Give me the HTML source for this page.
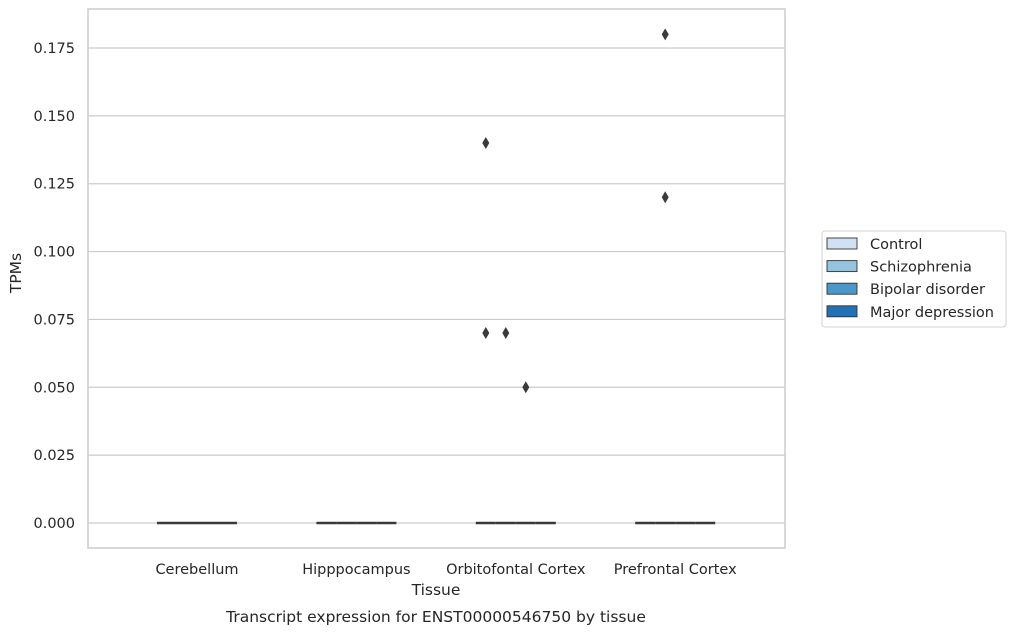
<!DOCTYPE html>
<html><head><meta charset="utf-8"><style>
body{margin:0;background:#fff;font-family:"Liberation Sans","DejaVu Sans",sans-serif;}
</style></head><body>
<svg id="chart" width="1017" height="634" xmlns="http://www.w3.org/2000/svg" font-family="DejaVu Sans, Liberation Sans, sans-serif" fill="#262626"></svg>
<script>
const categories = ["Cerebellum","Hipppocampus","Orbitofontal Cortex","Prefrontal Cortex"];
const hues = ["Control","Schizophrenia","Bipolar disorder","Major depression"];
const hueColors = ["#d0e1f2","#94c4df","#4a98c9","#2171b5"];
const yTicks = [0,0.025,0.05,0.075,0.1,0.125,0.15,0.175];
const medians = [[0,0,0,0],[0,0,0,0],[0,0,0,0],[0,0,0,0]];
// outliers: [categoryIndex, hueIndex, value]
const outliers = [[2,0,0.14],[2,0,0.07],[2,1,0.07],[2,2,0.05],[3,1,0.18],[3,1,0.12]];

const svg = document.getElementById('chart');
const NS = "http://www.w3.org/2000/svg";
const L=88,R=785,T=9,B=548;
const y = v => 523 - v/0.175*475;
const xc = i => 197 + i*159.4;
const xh = (i,h) => xc(i) - 30 + h*20;
function mk(tag, attrs, text){const e=document.createElementNS(NS,tag);for(const k in attrs)e.setAttribute(k,attrs[k]);if(text!==undefined)e.textContent=text;svg.appendChild(e);return e;}

yTicks.forEach(t=>{
  const g=mk('line',{x1:L,x2:R,y1:y(t),y2:y(t),stroke:'#cccccc','stroke-width':1.2});
  
  
  const tx=mk('text',{x:75,y:y(t)+5,'text-anchor':'end','font-size':14.5},t.toFixed(3));
  
  
});
const frame=mk('rect',{x:L,y:T,width:R-L,height:B-T,fill:'none',stroke:'#cccccc','stroke-width':1.5});



categories.forEach((c,i)=>{
  const tx=mk('text',{x:xc(i),y:574,'text-anchor':'middle','font-size':14.5},c);
  
  
  hues.forEach((h,j)=>{
    const m=mk('line',{x1:xh(i,j)-10,x2:xh(i,j)+10,y1:y(medians[i][j]),y2:y(medians[i][j]),stroke:'#3a3a3a','stroke-width':2.5});
    
    
  });
});
outliers.forEach(o=>{
  const cx=xh(o[0],o[1]), cy=y(o[2]);
  const p=mk('polygon',{points:`${cx},${cy-6} ${cx+3.5},${cy} ${cx},${cy+6} ${cx-3.5},${cy}`,fill:'#3a3a3a'});
  
  
});
let t;
t=mk('text',{x:436,y:595,'text-anchor':'middle','font-size':15.5},'Tissue');


t=mk('text',{x:21,y:273,'text-anchor':'middle','font-size':15.5,transform:'rotate(-90 21 273)'},'TPMs');


t=mk('text',{x:436,y:622,'text-anchor':'middle','font-size':15.5},'Transcript expression for ENST00000546750 by tissue');



const lg=mk('rect',{x:822,y:231,width:184,height:96,rx:3,fill:'#fff',stroke:'#d0d0d0'});


hues.forEach((h,j)=>{
  const yy=238+j*22.6;
  const r=mk('rect',{x:827,y:yy,width:30,height:11,fill:hueColors[j],stroke:'#333','stroke-width':0.9});
  
  
  const tx=mk('text',{x:870,y:yy+11,'font-size':14.5},h);
  
  
});
</script>
</body></html>
